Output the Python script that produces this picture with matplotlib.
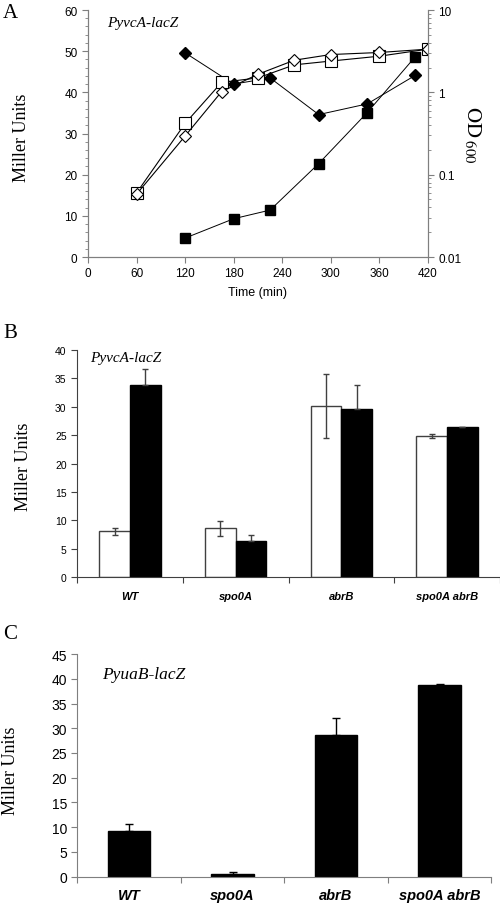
import numpy as np
import matplotlib
matplotlib.use('Agg')
import matplotlib.pyplot as plt
from matplotlib.ticker import MultipleLocator, LogLocator, FixedLocator, FixedFormatter, NullFormatter

plt.rcParams['font.family'] = ['Liberation Sans', 'DejaVu Sans']
plt.rcParams['mathtext.fontset'] = 'stix'

# Panel A: time course (open symbols = OD600 on right log axis, filled = Miller units)
time_od = [60, 120, 165, 210, 255, 300, 360, 420]
od_square = [0.060, 0.42, 1.32, 1.50, 2.16, 2.40, 2.75, 3.35]
od_diamond = [0.058, 0.295, 1.02, 1.66, 2.46, 2.88, 3.05, 3.35]
time_mu = [120, 180, 225, 285, 345, 404]
mu_diamond = [49.6, 42.0, 43.5, 34.6, 37.2, 44.1]
mu_square = [4.6, 9.3, 11.4, 22.7, 35.1, 48.6]

# Panel B: PyvcA-lacZ in mutants (white / black bars)
strains = ['WT', 'spo0A', 'abrB', 'spo0A abrB']
b_white = [8.1, 8.6, 30.2, 24.9]
b_white_err = [0.65, 1.3, 5.6, 0.35]
b_black = [33.8, 6.3, 29.7, 26.4]
b_black_err = [2.8, 1.2, 4.2, 0.0]

# Panel C: PyuaB-lacZ
c_vals = [9.15, 0.55, 28.7, 38.8]
c_err = [1.5, 0.35, 3.4, 0.15]

serif = ['Liberation Serif', 'DejaVu Serif']
grey = '#7f7f7f'
dark = '#404040'

fig = plt.figure(figsize=(5, 9.04), dpi=100)

# ---------------- Panel A ----------------
axA = fig.add_axes([0.176, 0.7146, 0.68, 0.2732])
axA2 = axA.twinx()

axA.plot(time_mu, mu_diamond, color='black', lw=0.7, marker='D', ms=6, mfc='black', mec='black', zorder=3)
axA.plot(time_mu, mu_square, color='black', lw=0.7, marker='s', ms=6.5, mfc='black', mec='black', zorder=3)
axA2.plot(time_od, od_square, color='black', lw=0.8, marker='s', ms=8.5, mfc='white', mec='black', mew=0.8)
axA2.plot(time_od, od_diamond, color='black', lw=0.8, marker='D', ms=6.5, mfc='white', mec='black', mew=0.8)

axA.set_xlim(0, 420)
axA.set_ylim(0, 60)
axA.set_xticks(np.arange(0, 421, 60))
axA.set_yticks(np.arange(0, 61, 10))
axA.yaxis.set_minor_locator(MultipleLocator(2))
axA2.set_yscale('log')
axA2.set_ylim(0.01, 10)
axA2.yaxis.set_major_locator(FixedLocator([0.01, 0.1, 1, 10]))
axA2.yaxis.set_major_formatter(FixedFormatter(['0.01', '0.1', '1', '10']))
axA2.yaxis.set_minor_locator(LogLocator(base=10, subs=np.arange(2, 10)))
axA2.yaxis.set_minor_formatter(NullFormatter())

for ax in (axA, axA2):
    ax.spines['top'].set_visible(False)
    for s in ('left', 'right', 'bottom'):
        ax.spines[s].set_color(grey)
    ax.tick_params(which='both', colors=grey, labelcolor='black', labelsize=8.5, direction='out')
    ax.tick_params(which='major', length=4)
    ax.tick_params(which='minor', length=2)

axA.set_xlabel('Time (min)', fontsize=9, labelpad=5)
axA.set_ylabel('Miller Units', family=serif, fontsize=13)
axA.yaxis.set_label_coords(-0.17, 0.486)
axA2.set_ylabel(r'$\mathrm{OD}_{\ 600}$', fontsize=15, rotation=270)
axA2.yaxis.set_label_coords(1.16, 0.5)
axA.text(0.056, 0.951, 'PyvcA-lacZ', transform=axA.transAxes, family=serif,
         style='italic', fontsize=11, ha='left', va='center')

# ---------------- Panel B ----------------
axB = fig.add_axes([0.154, 0.3603, 0.846, 0.2514])
x = np.arange(len(strains))
w = 0.29
zeros = [0] * len(strains)
axB.bar(x - w / 2, b_white, w, color='white', edgecolor=dark, linewidth=1,
        yerr=b_white_err, error_kw=dict(ecolor=dark, elinewidth=1, capsize=2.5, capthick=1))
axB.bar(x + w / 2, b_black, w, color='black', edgecolor='black', linewidth=1,
        yerr=[zeros, b_black_err], error_kw=dict(ecolor=dark, elinewidth=1, capsize=2.5, capthick=1))
axB.set_xlim(-0.5, 3.5)
axB.set_ylim(0, 40)
axB.set_yticks(np.arange(0, 41, 5))
axB.set_xticks(np.arange(-0.5, 4, 1))
axB.set_xticklabels([])
axB.set_xticks(x, minor=True)
axB.set_xticklabels(strains, minor=True, style='italic', weight='bold', fontsize=8)
axB.tick_params(axis='x', which='minor', length=0, pad=10)
axB.tick_params(which='major', length=4, colors=dark, labelcolor='black', labelsize=7.5)
for s in ('top', 'right'):
    axB.spines[s].set_visible(False)
for s in ('left', 'bottom'):
    axB.spines[s].set_color(dark)
axB.set_ylabel('Miller Units', family=serif, fontsize=13)
axB.yaxis.set_label_coords(-0.106, 0.49)
axB.text(0.032, 0.969, 'PyvcA-lacZ', transform=axB.transAxes, family=serif,
         style='italic', fontsize=11, ha='left', va='center')

# ---------------- Panel C ----------------
axC = fig.add_axes([0.1546, 0.0291, 0.828, 0.2463])
wc = 0.41
axC.bar(x, c_vals, wc, color='black', edgecolor='black',
        yerr=[zeros, c_err], error_kw=dict(ecolor='black', elinewidth=1, capsize=3, capthick=1))
axC.set_xlim(-0.5, 3.5)
axC.set_ylim(0, 45)
axC.set_yticks(np.arange(0, 46, 5))
axC.set_xticks(np.arange(-0.5, 4, 1))
axC.set_xticklabels([])
axC.set_xticks(x, minor=True)
axC.set_xticklabels(strains, minor=True, style='italic', weight='bold', fontsize=10.5)
axC.tick_params(axis='x', which='minor', length=0, pad=8)
axC.tick_params(which='major', length=4, colors=grey, labelcolor='black', labelsize=10)
for s in ('top', 'right'):
    axC.spines[s].set_visible(False)
for s in ('left', 'bottom'):
    axC.spines[s].set_color(grey)
axC.set_ylabel('Miller Units', family=serif, fontsize=13)
axC.yaxis.set_label_coords(-0.14, 0.48)
axC.text(0.059, 0.91, 'PyuaB-lacZ', transform=axC.transAxes, family=serif,
         style='italic', fontsize=12.5, ha='left', va='center')

# panel letters
for lab, ypix in (('A', 14), ('B', 333), ('C', 635)):
    fig.text(0.006, 1 - ypix / 904, lab, family=serif, fontsize=15, ha='left', va='center')

fig.savefig('out.png', dpi=100)
